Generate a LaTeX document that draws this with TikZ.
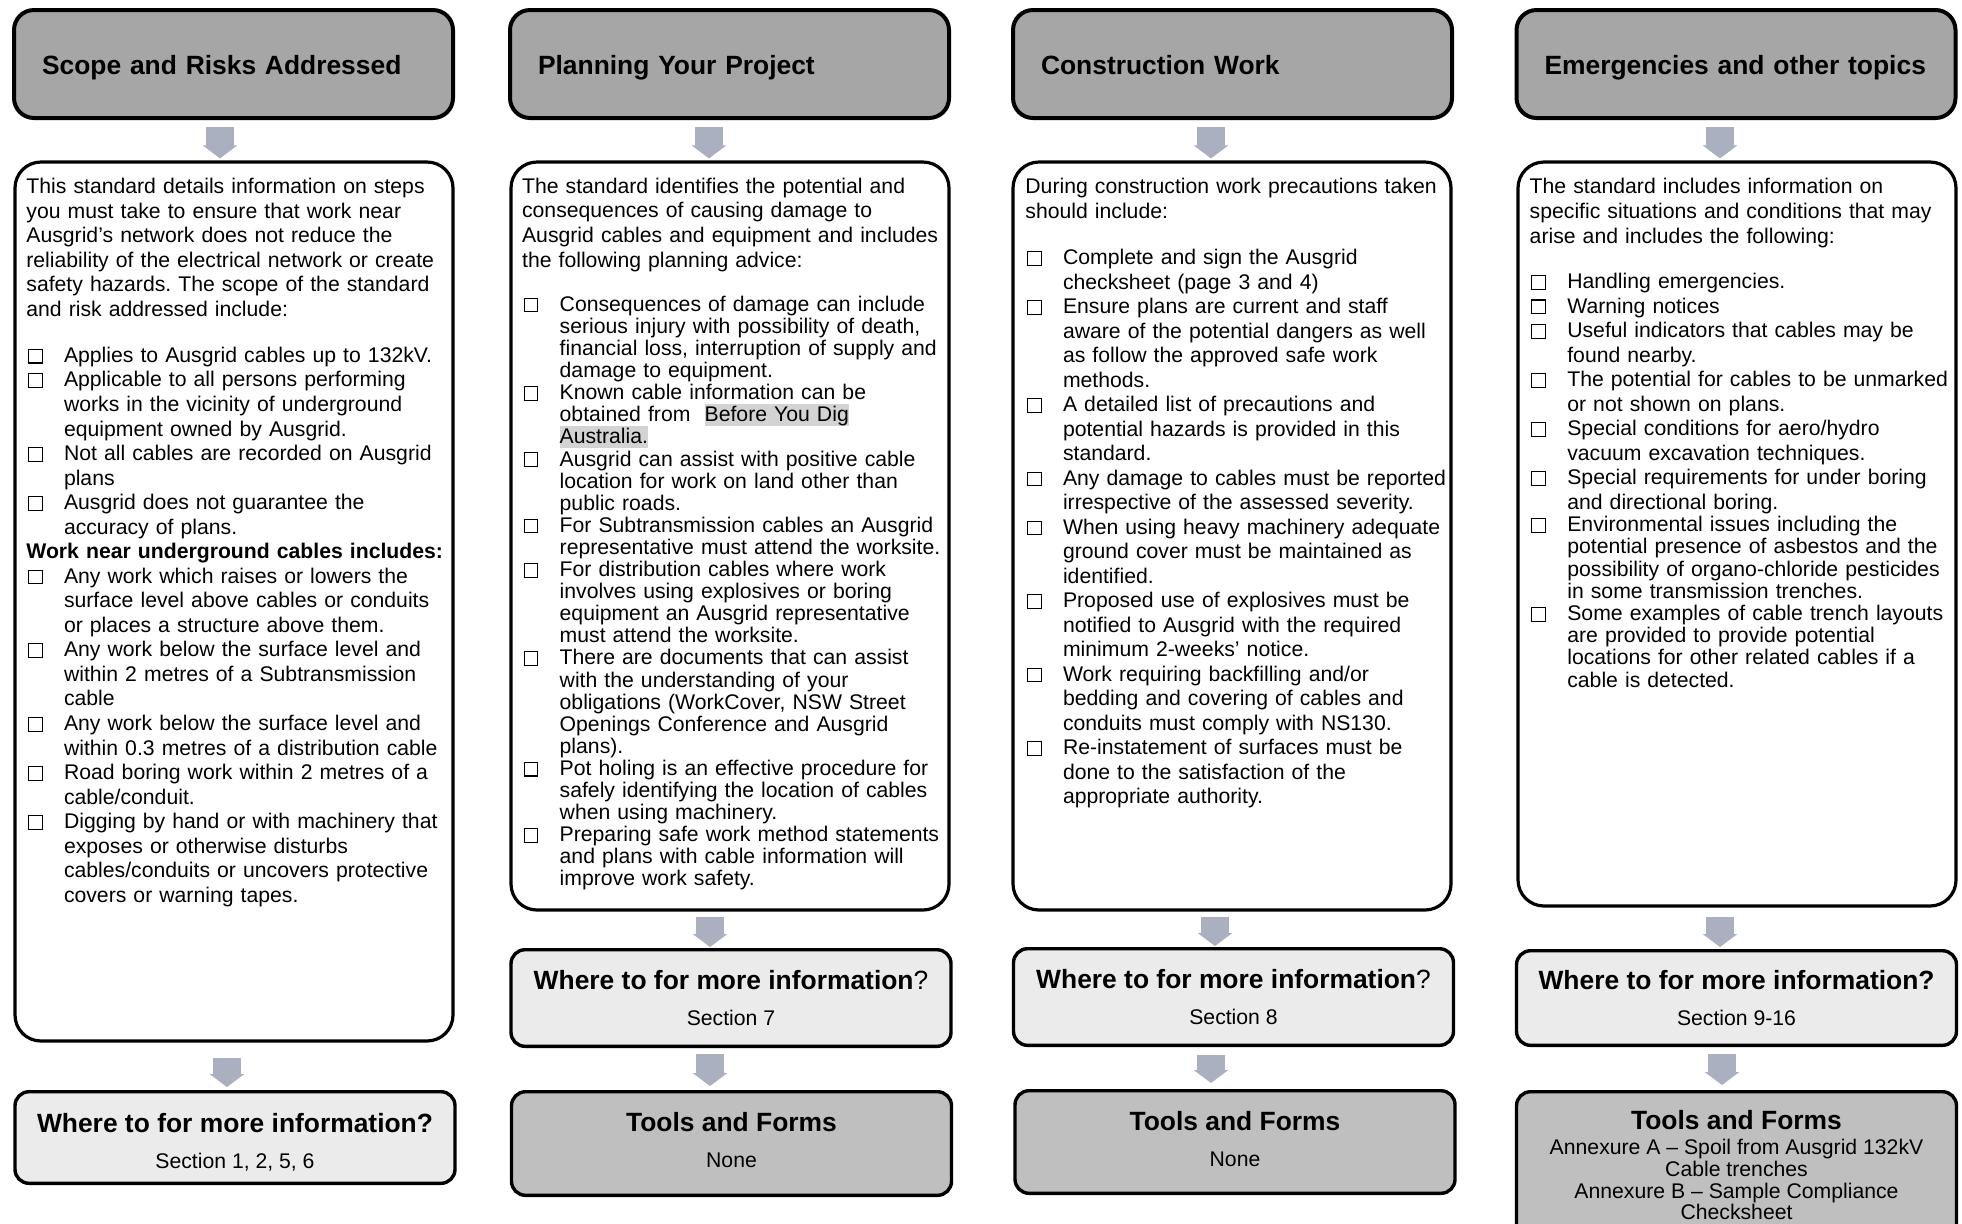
\documentclass[tikz,border=0pt]{standalone}
\usepackage{fontspec}
\setmainfont{Liberation Sans}
\usepackage{xcolor}
\usepackage{tikz}
\usetikzlibrary{arrows.meta}
\frenchspacing

\definecolor{headgray}{RGB}{166,166,166}
\definecolor{infogray}{RGB}{235,235,235}
\definecolor{toolgray}{RGB}{191,191,191}
\definecolor{arrowgray}{RGB}{170,176,192}
\definecolor{hlgray}{RGB}{211,211,211}

\newcommand{\bigfont}{\fontsize{13.2pt}{15pt}\selectfont}
\newcommand{\titlefont}{\bigfont\bfseries}
\newcommand{\chk}{\makebox[18.8pt][l]{\hspace{0.7pt}\setlength{\fboxsep}{0pt}\setlength{\fboxrule}{0.55pt}\fbox{\rule{0pt}{6.3pt}\rule{6.3pt}{0pt}}}}
\newcommand{\itm}{\par\hangindent=18.8pt\hangafter=1\noindent\chk}
\newcommand{\hilite}[1]{{\setlength{\fboxsep}{0pt}\colorbox{hlgray}{\rule[-2.2pt]{0pt}{11pt}#1}}}

\begin{document}
\begin{tikzpicture}[x=0.5pt, y=-0.5pt,
    head/.style={draw, line width=2pt, fill=headgray, rounded corners=10pt,
      minimum height=54pt, text width=191.5pt, inner xsep=14pt, align=left,
      text height=10pt, text depth=0pt, font=\titlefont},
    body/.style={draw, line width=1.6pt, fill=white, rounded corners=13pt, minimum width=219pt},
    txt/.style={anchor=north west, inner sep=0pt, text width=214pt, align=left,
      font=\fontsize{10.6pt}{12.27pt}\selectfont},
    info/.style={draw, line width=1.7pt, fill=infogray, rounded corners=7pt,
      minimum width=220pt, align=center, font=\fontsize{10.6pt}{12.3pt}\selectfont},
    tools/.style={info, fill=toolgray},
    flow/.style={draw=arrowgray, line width=14pt, -{Triangle[width=17pt,length=6.5pt]},
      shorten <=3.5pt, shorten >=1pt}]

    \useasboundingbox (0,0) rectangle (1962,1223);
    \clip (0,0) rectangle (1962,1223);
    \fill[white] (0,0) rectangle (1962,1223);

    % Intestazioni
    \node[head] (h1) at (233.5,64) {Scope and Risks Addressed};
    \node[head] (h2) at (729.5,64) {Planning Your Project};
    \node[head] (h3) at (1232.5,64) {Construction Work};
    \node[head] (h4) at (1736,64) {Emergencies and other topics};

    % Riquadri centrali
    \node[body, minimum height=439.5pt] (b1) at (234,601.5) {};
    \node[body, minimum height=374pt] (b2) at (730,536) {};
    \node[body, minimum height=374pt] (b3) at (1232,536) {};
    \node[body, minimum height=372pt] (b4) at (1737,534) {};

    % Testo colonna 1
    \node[txt] (t1) at (26,175.3) {\noindent\rule{0pt}{9pt}This standard details information on steps\newline
      you must take to ensure that work near\newline
      Ausgrid's network does not reduce the\newline
      reliability of the electrical network or create\newline
      safety hazards. The scope of the standard\newline
      and risk addressed include:\par
      \vspace{10.73pt}
      \itm Applies to Ausgrid cables up to 132kV.
      \itm Applicable to all persons performing\newline works in the vicinity of underground\newline equipment owned by Ausgrid.
      \itm Not all cables are recorded on Ausgrid\newline plans
      \itm Ausgrid does not guarantee the\newline accuracy of plans.
      \par\noindent\textbf{Work near underground cables includes:}
      \itm Any work which raises or lowers the\newline surface level above cables or conduits\newline or places a structure above them.
      \itm Any work below the surface level and\newline within 2 metres of a Subtransmission\newline cable
      \itm Any work below the surface level and\newline within 0.3 metres of a distribution cable
      \itm Road boring work within 2 metres of a\newline cable/conduit.
      \itm Digging by hand or with machinery that\newline exposes or otherwise disturbs\newline cables/conduits or uncovers protective\newline covers or warning tapes.\par};

    % Testo colonna 2
    \node[txt] (t2) at (521.7,174.7) {\baselineskip=12.33pt\noindent\rule{0pt}{9pt}The standard identifies the potential and\newline
      consequences of causing damage to\newline
      Ausgrid cables and equipment and includes\newline
      the following planning advice:\par
      \baselineskip=11.05pt\vspace{11.1pt}
      \itm Consequences of damage can include\newline serious injury with possibility of death,\newline financial loss, interruption of supply and\newline damage to equipment.
      \itm Known cable information can be\newline obtained from\ \ \hilite{Before You Dig}\newline \hilite{Australia.}
      \itm Ausgrid can assist with positive cable\newline location for work on land other than\newline public roads.
      \itm For Subtransmission cables an Ausgrid\newline representative must attend the worksite.
      \itm For distribution cables where work\newline involves using explosives or boring\newline equipment an Ausgrid representative\newline must attend the worksite.
      \itm There are documents that can assist\newline with the understanding of your\newline obligations (WorkCover, NSW Street\newline Openings Conference and Ausgrid\newline plans).
      \itm Pot holing is an effective procedure for\newline safely identifying the location of cables\newline when using machinery.
      \itm Preparing safe work method statements\newline and plans with cable information will\newline improve work safety.\par};

    % Testo colonna 3
    \node[txt] (t3) at (1025,174.7) {\baselineskip=12.5pt\noindent\rule{0pt}{9pt}During construction work precautions taken\newline
      should include:\par
      \baselineskip=12.25pt\vspace{11.05pt}
      \itm Complete and sign the Ausgrid\newline checksheet (page 3 and 4)
      \itm Ensure plans are current and staff\newline aware of the potential dangers as well\newline as follow the approved safe work\newline methods.
      \itm A detailed list of precautions and\newline potential hazards is provided in this\newline standard.
      \itm Any damage to cables must be reported\newline irrespective of the assessed severity.
      \itm When using heavy machinery adequate\newline ground cover must be maintained as\newline identified.
      \itm Proposed use of explosives must be\newline notified to Ausgrid with the required\newline minimum 2-weeks’ notice.
      \itm Work requiring backfilling and/or\newline bedding and covering of cables and\newline conduits must comply with NS130.
      \itm Re-instatement of surfaces must be\newline done to the satisfaction of the\newline appropriate authority.\par};

    % Testo colonna 4
    \node[txt] (t4) at (1529.3,174.7) {\baselineskip=12.5pt\noindent\rule{0pt}{9pt}The standard includes information on\newline
      specific situations and conditions that may\newline
      arise and includes the following:\par
      \baselineskip=12.27pt\vspace{10.5pt}
      \itm Handling emergencies.
      \itm Warning notices
      \itm Useful indicators that cables may be\newline found nearby.
      \itm The potential for cables to be unmarked\newline or not shown on plans.
      \itm Special conditions for aero/hydro\newline vacuum excavation techniques.
      \itm Special requirements for under boring\newline and directional boring.\par
      \baselineskip=11.1pt
      \itm Environmental issues including the\newline potential presence of asbestos and the\newline possibility of organo-chloride pesticides\newline in some transmission trenches.
      \itm Some examples of cable trench layouts\newline are provided to provide potential\newline locations for other related cables if a\newline cable is detected.\par};

    % Dove trovare altre informazioni
    \node[info, minimum height=45.8pt] (w1) at (235,1137.5) {\rule{0pt}{14.7pt}{\titlefont Where to for more information?}\\[5.7pt]Section 1, 2, 5, 6};
    \node[info, minimum height=48.3pt] (w2) at (731,998) {{\titlefont Where to for more information}{\bigfont ?}\\[5.7pt]Section 7};
    \node[info, minimum height=48.3pt] (w3) at (1233.5,997) {{\titlefont Where to for more information}{\bigfont ?}\\[5.7pt]Section 8};
    \node[info, minimum height=47.3pt] (w4) at (1736.5,998) {{\titlefont Where to for more information?}\\[5.7pt]Section 9-16};

    % Strumenti e moduli
    \node[tools, minimum height=51.8pt] (f2) at (731.5,1143.5) {{\titlefont Tools and Forms}\\[5.7pt]None\rule[-3.4pt]{0pt}{0pt}};
    \node[tools, minimum height=51.3pt] (f3) at (1235,1142) {{\titlefont Tools and Forms}\\[5.7pt]None\rule[-3.4pt]{0pt}{0pt}};
    \node[tools, minimum height=73.7pt, font=\fontsize{10.6pt}{10.85pt}\selectfont] (f4) at (1736.5,1165.4) {{\titlefont Tools and Forms}\\[1.65pt]Annexure A -- Spoil from Ausgrid 132kV\\Cable trenches\\Annexure B -- Sample Compliance\\Checksheet};

    % Frecce
    \draw[flow] ([xshift=-6.75pt]h1.south) -- ([xshift=-7pt]b1.north);
    \draw[flow, shorten <=7.5pt, shorten >=1.5pt] ([xshift=-3.5pt]b1.south) -- ([xshift=-4pt]w1.north);

    \draw[flow] ([xshift=-10.25pt]h2.south) -- ([xshift=-10.5pt]b2.north);
    \draw[flow, shorten <=2.5pt, shorten >=0.5pt] ([xshift=-10pt]b2.south) -- ([xshift=-10.5pt]w2.north);
    \draw[flow, shorten <=3pt, shorten >=2pt] ([xshift=-10.5pt]w2.south) -- ([xshift=-10.75pt]f2.north);

    \draw[flow] ([xshift=-10.75pt]h3.south) -- ([xshift=-10.5pt]b3.north);
    \draw[flow, shorten <=2.5pt, shorten >=0.5pt] ([xshift=-8.5pt]b3.south) -- ([xshift=-9.25pt]w3.north);
    \draw[flow, shorten <=4pt, shorten >=3pt] ([xshift=-11.25pt]w3.south) -- ([xshift=-12pt]f3.north);

    \draw[flow] ([xshift=-8pt]h4.south) -- ([xshift=-8.5pt]b4.north);
    \draw[flow, shorten <=4.5pt, shorten >=1pt] ([xshift=-8.5pt]b4.south) -- ([xshift=-8.25pt]w4.north);
    \draw[flow, shorten <=3.5pt, shorten >=2.5pt] ([xshift=-7.25pt]w4.south) -- ([xshift=-7.25pt]f4.north);
\end{tikzpicture}
\end{document}
